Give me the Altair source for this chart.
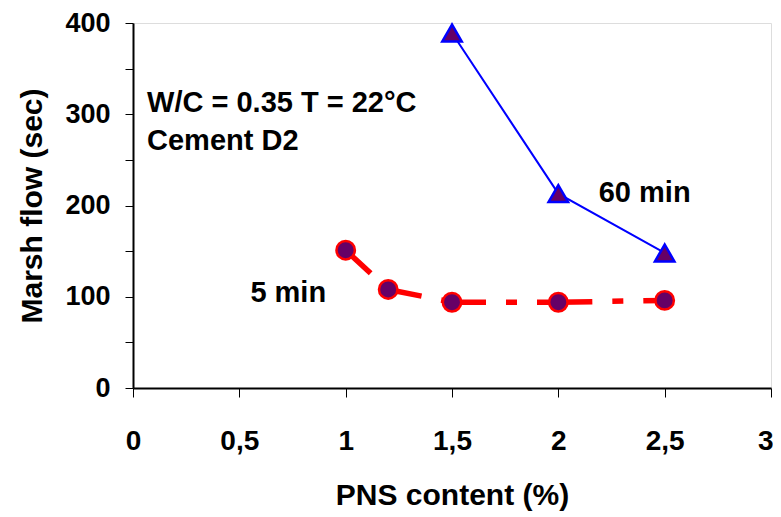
import altair as alt
import pandas as pd

# Data
pns_5min = [1.0, 1.2, 1.5, 2.0, 2.5]
flow_5min = [151, 108, 94, 94, 96]
pns_60min = [1.5, 2.0, 2.5]
flow_60min = [389, 213, 148]

# Annotations
ann_text = ["W/C = 0.35 T = 22°C", "Cement D2", "60 min", "5 min"]
ann_x = [0.066, 0.066, 2.19, 0.552]
ann_y = [312, 271, 214, 104]

df5 = pd.DataFrame({"x": pns_5min, "y": flow_5min})
df60 = pd.DataFrame({"x": pns_60min, "y": flow_60min})
dfa = pd.DataFrame({"t": ann_text, "x": ann_x, "y": ann_y})

# 5-min line drawn segment by segment so the dash pattern restarts at each point
seg_rows = []
for i in range(len(pns_5min) - 1):
    seg_rows.append({"seg": i, "o": 0, "x": pns_5min[i], "y": flow_5min[i]})
    seg_rows.append({"seg": i, "o": 1, "x": pns_5min[i + 1], "y": flow_5min[i + 1]})
dfseg = pd.DataFrame(seg_rows)

FONT = "Liberation Sans"

xscale = alt.Scale(domain=[0, 3], nice=False, zero=False)
yscale = alt.Scale(domain=[0, 400], nice=False)

xaxis = alt.Axis(
    title="PNS content (%)",
    values=[0, 0.5, 1, 1.5, 2, 2.5, 3],
    labelExpr="replace(format(datum.value, '~g'), '.', ',')",
    labelAlign=alt.ExprRef(expr="datum.value == 3 ? 'right' : 'center'"),
    labelOffset=alt.ExprRef(expr="datum.value == 3 ? 2 : 0"),
    grid=False, tickSize=9, tickColor="black", tickWidth=1,
    domainColor="black", domainWidth=2,
    labelFontSize=28, labelFont=FONT, labelFontWeight="bold", labelColor="black",
    labelPadding=30, labelFlush=False, labelOverlap=False,
    titleFontSize=30, titleFont=FONT, titleFontWeight="bold", titleColor="black",
    titlePadding=25,
)
yaxis = alt.Axis(
    title="Marsh flow (sec)",
    values=[0, 50, 100, 150, 200, 250, 300, 350, 400],
    labelExpr="datum.value % 100 == 0 ? datum.label : ''",
    grid=False, tickSize=8, tickColor="black", tickWidth=1,
    domainColor="black", domainWidth=2,
    labelFontSize=27, labelFont=FONT, labelFontWeight="bold", labelColor="black",
    labelPadding=15, labelFlush=False, labelOverlap=False,
    titleFontSize=30, titleFont=FONT, titleFontWeight="bold", titleColor="black",
    titlePadding=17,
)

line5 = alt.Chart(dfseg).mark_line(
    color="#FF0000", strokeWidth=5.5, strokeDash=[34, 20, 11, 20], strokeCap="butt"
).encode(
    x=alt.X("x:Q", scale=xscale, axis=xaxis),
    y=alt.Y("y:Q", scale=yscale, axis=yaxis),
    detail="seg:N",
    order="o:Q",
)

pts5 = alt.Chart(df5).mark_point(
    shape="circle", filled=True, fill="#660066", stroke="#FF0000", strokeWidth=2.5,
    size=340, opacity=1
).encode(x="x:Q", y="y:Q")

line60 = alt.Chart(df60).mark_line(color="#0000FF", strokeWidth=2).encode(x="x:Q", y="y:Q")

pts60 = alt.Chart(df60).mark_point(
    shape="triangle-up", filled=True, fill="#660066", stroke="#0000FF", strokeWidth=2.5,
    size=380, opacity=1
).encode(x="x:Q", y="y:Q")

texts = alt.Chart(dfa).mark_text(
    align="left", baseline="middle", font=FONT, fontWeight="bold", fontSize=29, color="black"
).encode(x="x:Q", y="y:Q", text="t:N")

chart = alt.layer(line5, line60, pts5, pts60, texts).properties(
    width=638, height=365,
    autosize=alt.AutoSizeParams(type="none"),
    padding={"left": 125, "top": 15, "right": 2, "bottom": 126},
).configure_view(stroke="black", strokeWidth=2).configure(background="white")

chart.save("out.html", embed_options={"renderer": "svg", "actions": False})
